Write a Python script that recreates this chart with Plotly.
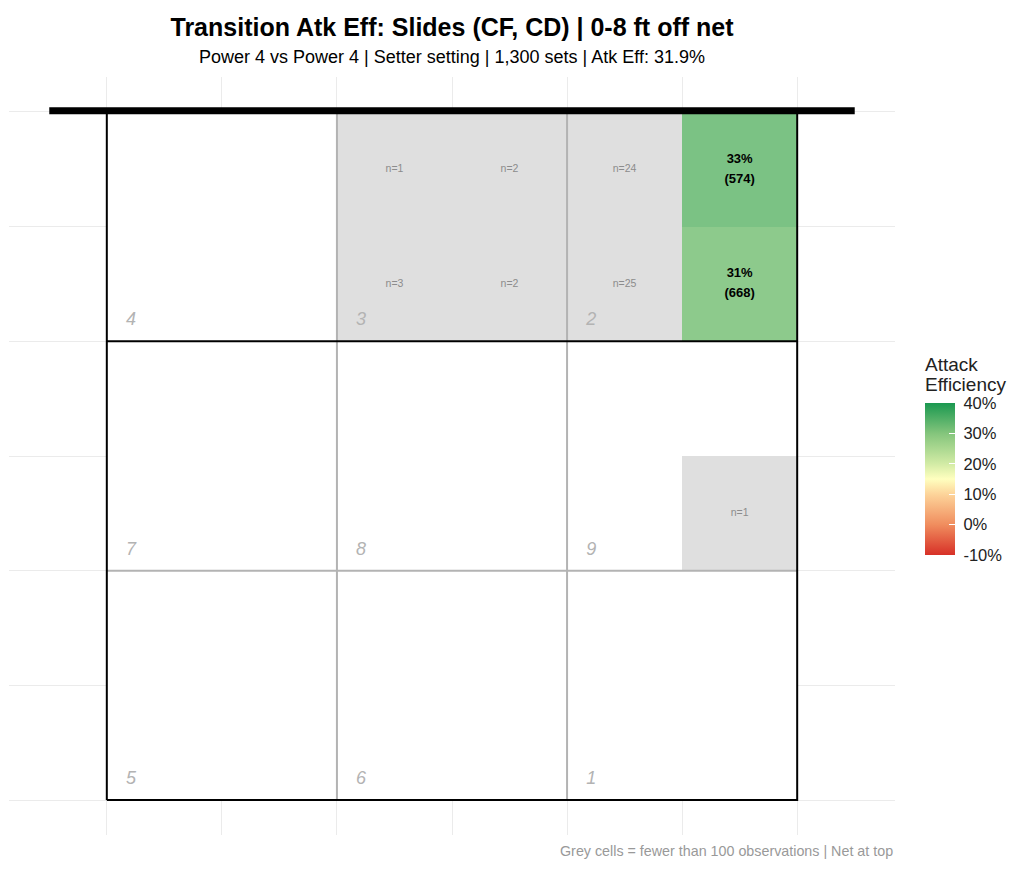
import numpy as np
import plotly.graph_objects as go

# court cells (1 unit = 1 cell, 6 x 6 grid, net at top y=6)
cell_x = [2.5, 3.5, 4.5, 5.5, 2.5, 3.5, 4.5, 5.5, 5.5]
cell_y = [5.5, 5.5, 5.5, 5.5, 4.5, 4.5, 4.5, 4.5, 2.5]
cell_n = [1, 2, 24, 574, 3, 2, 25, 668, 1]
cell_eff = [None, None, None, 0.33, None, None, None, 0.31, None]
min_n = 100

# zones (volleyball rotation numbering), bottom-left corner of each zone
zone_names = ["4", "3", "2", "7", "8", "9", "5", "6", "1"]
zone_x0 = [0, 2, 4, 0, 2, 4, 0, 2, 4]
zone_y0 = [4, 4, 4, 2, 2, 2, 0, 0, 0]

cbar_vals = [-0.1, 0.0, 0.1, 0.2, 0.3, 0.4]
cbar_text = ["-10%", "0%", "10%", "20%", "30%", "40%"]

title = "Transition Atk Eff: Slides (CF, CD) | 0-8 ft off net"
subtitle = "Power 4 vs Power 4 | Setter setting | 1,300 sets | Atk Eff: 31.9%"
caption = "Grey cells = fewer than 100 observations | Net at top"
legend_title = ["Attack", "Efficiency"]

FONT = "Liberation Sans, Arial, sans-serif"
W, H = 1024, 875
OFF = 8  # page body margin in the browser

centers = np.arange(6) + 0.5
z_eff = np.full((6, 6), None, dtype=object)
z_grey = np.full((6, 6), None, dtype=object)
for x, y, n, e in zip(cell_x, cell_y, cell_n, cell_eff):
    i, j = int(y), int(x)
    if n >= min_n:
        z_eff[i, j] = e
    else:
        z_grey[i, j] = 1

pl, pr, pt, pb = 9 - OFF, 895 - OFF, 77 - OFF, 835 - OFF


def px_to_paper_y(py):
    return (pb - (py - OFF)) / (pb - pt)


def px_to_paper_x(px):
    return (px - OFF - pl) / (pr - pl)


fig = go.Figure()

# white court tiles
fig.add_trace(go.Heatmap(
    x=centers, y=centers, z=np.zeros((6, 6)),
    colorscale=[[0, "white"], [1, "white"]], showscale=False, hoverinfo="skip"))

# low-sample cells
fig.add_trace(go.Heatmap(
    x=centers, y=centers, z=z_grey.tolist(),
    colorscale=[[0, "#dfdfdf"], [1, "#dfdfdf"]], showscale=False, hoverinfo="skip"))

# efficiency cells
fig.add_trace(go.Heatmap(
    x=centers, y=centers, z=z_eff.tolist(), zmin=-0.1, zmax=0.4, opacity=0.85,
    colorscale=[[0.0, "#d73027"], [0.2, "#f08d5e"], [0.4, "#fdd49a"], [0.5, "#ffffbf"],
                [0.6, "#d2eba5"], [0.8, "#84c57c"], [1.0, "#1a9850"]],
    hoverinfo="skip",
    colorbar=dict(
        tickvals=cbar_vals, ticktext=["\u00a0" + t for t in cbar_text],
        tickfont=dict(size=16.5, color="#222"),
        ticks="inside", ticklen=6, tickcolor="white",
        thickness=30, lenmode="pixels", len=152, outlinewidth=0,
        xref="container", x=(925 - OFF) / W, xanchor="left", xpad=0,
        yref="paper", y=px_to_paper_y(403), yanchor="top", ypad=0)))

# zone boundaries
grey_line = dict(color="#b3b3b3", width=2)
black_line = dict(color="black", width=2)
for xe in zone_x0[1:3]:
    fig.add_trace(go.Scatter(x=[xe, xe], y=[0, 6], mode="lines", line=grey_line,
                             hoverinfo="skip", showlegend=False))
fig.add_trace(go.Scatter(x=[0, 6], y=[2, 2], mode="lines", line=grey_line,
                         hoverinfo="skip", showlegend=False))
fig.add_trace(go.Scatter(x=[0, 6], y=[4, 4], mode="lines", line=black_line,
                         hoverinfo="skip", showlegend=False))
fig.add_trace(go.Scatter(x=[0, 6, 6, 0, 0], y=[0, 0, 6, 6, 0], mode="lines", line=black_line,
                         hoverinfo="skip", showlegend=False))
# net
fig.add_trace(go.Scatter(x=[-0.5, 6.5], y=[6.01, 6.01], mode="lines",
                         line=dict(color="black", width=7),
                         hoverinfo="skip", showlegend=False))

# zone numbers
fig.add_trace(go.Scatter(
    x=[v + 0.21 for v in zone_x0], y=[v + 0.18 for v in zone_y0], mode="text",
    text=["<i>%s</i>" % z for z in zone_names],
    textfont=dict(size=18, color="#b3b3b3", family=FONT),
    hoverinfo="skip", showlegend=False))

# cell labels
lab_x, lab_y, pct_t, cnt_t = [], [], [], []
n_x, n_y, n_t = [], [], []
for x, y, n, e in zip(cell_x, cell_y, cell_n, cell_eff):
    if n >= min_n:
        lab_x.append(x); lab_y.append(y)
        pct_t.append("<b>%d%%</b>" % round(e * 100))
        cnt_t.append("<b>(%d)</b>" % n)
    else:
        n_x.append(x); n_y.append(y); n_t.append("n=%d" % n)
fig.add_trace(go.Scatter(x=lab_x, y=[v + 0.087 for v in lab_y], mode="text", text=pct_t,
                         textfont=dict(size=13, color="black", family=FONT),
                         hoverinfo="skip", showlegend=False))
fig.add_trace(go.Scatter(x=lab_x, y=[v - 0.087 for v in lab_y], mode="text", text=cnt_t,
                         textfont=dict(size=13, color="black", family=FONT),
                         hoverinfo="skip", showlegend=False))
fig.add_trace(go.Scatter(x=n_x, y=n_y, mode="text", text=n_t,
                         textfont=dict(size=10.5, color="#8c8c8c", family=FONT),
                         hoverinfo="skip", showlegend=False))

annotations = [
    dict(text=subtitle, x=0.5, y=px_to_paper_y(57), xref="paper", yref="paper",
         showarrow=False, xanchor="center", yanchor="middle",
         font=dict(size=18, color="black")),
    dict(text=caption, x=1.0, y=px_to_paper_y(851), xref="paper", yref="paper",
         showarrow=False, xanchor="right", yanchor="middle",
         font=dict(size=14.3, color="#999999")),
]
for line, py in zip(legend_title, [364.5, 385]):
    annotations.append(dict(text=line, x=px_to_paper_x(923), y=px_to_paper_y(py),
                            xref="paper", yref="paper", showarrow=False,
                            xanchor="left", yanchor="middle",
                            font=dict(size=19, color="#222")))

axis = dict(tickvals=list(range(7)), showticklabels=False, ticks="", showgrid=True,
            gridcolor="#ebebeb", gridwidth=1, zeroline=False, showline=False)
fig.update_layout(
    width=W, height=H,
    margin=dict(l=pl, r=W - pr, t=pt, b=H - pb, autoexpand=False),
    paper_bgcolor="white", plot_bgcolor="white",
    font=dict(family=FONT),
    xaxis=dict(axis, range=[-0.85, 6.85]),
    yaxis=dict(axis, range=[-0.305, 6.305]),
    title=dict(text="<b>%s</b>" % title, x=0.5, xref="paper", y=1 - (27 - OFF) / H,
               yref="container", yanchor="middle", xanchor="center",
               font=dict(size=25, color="black")),
    annotations=annotations,
)

fig.write_html("out.html")
